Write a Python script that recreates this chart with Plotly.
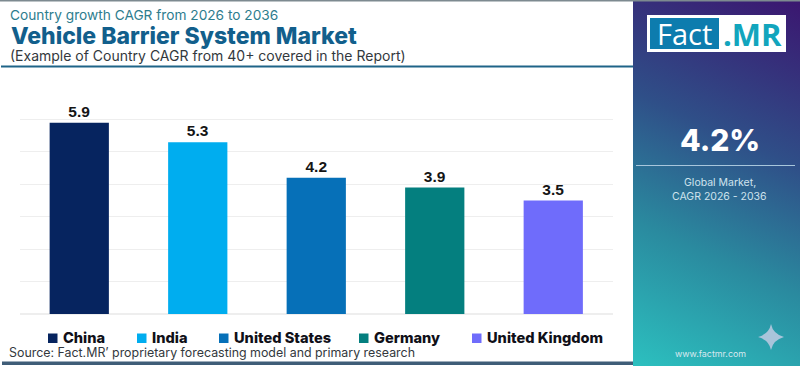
import base64
import plotly.graph_objects as go

categories = ["China", "India", "United States", "Germany", "United Kingdom"]
cagr = [5.9, 5.3, 4.2, 3.9, 3.5]
colors = ["#06245f", "#00adef", "#0670b8", "#047f7f", "#6f6cfb"]
legend_swatch_x = [48, 137, 219, 359, 472]
W, H = 800, 366

def px(x):
    return x / W

def py(y):
    return 1 - y / H

panel_svg = """<svg xmlns='http://www.w3.org/2000/svg' width='167' height='366'>
<defs><linearGradient id='g' gradientUnits='userSpaceOnUse' x1='0' y1='366' x2='167' y2='0'>
<stop offset='0' stop-color='#2cc0bf'/><stop offset='0.33' stop-color='#2a8a9f'/>
<stop offset='0.62' stop-color='#2f4f88'/><stop offset='1' stop-color='#3b1670'/></linearGradient></defs>
<rect width='167' height='366' fill='url(#g)'/></svg>"""
panel_uri = "data:image/svg+xml;base64," + base64.b64encode(panel_svg.encode()).decode()

fig = go.Figure(go.Bar(
    x=categories, y=cagr, width=0.5, marker=dict(color=colors, line_width=0),
    text=[f"<b>{v:.1f}</b>" for v in cagr], textposition="outside", cliponaxis=False,
    textfont=dict(family="Liberation Sans", size=15.5, color="#151515"),
    hoverinfo="x+y", showlegend=False,
))

shapes = [
    dict(type="rect", xref="paper", yref="paper", x0=0, x1=1, y0=py(1.5), y1=1, fillcolor="#7d8a90", line_width=0),
    dict(type="rect", xref="paper", yref="paper", x0=px(1), x1=px(633), y0=py(67.5), y1=py(65.5), fillcolor="#1f6488", line_width=0),
    dict(type="rect", xref="paper", yref="paper", x0=px(2), x1=px(633), y0=py(365), y1=py(361.5), fillcolor="#3f5d78", line_width=0),
    dict(type="line", xref="paper", yref="paper", x0=px(636), x1=px(795), y0=py(165.5), y1=py(165.5), line=dict(color="#a8c6dc", width=1)),
    dict(type="rect", xref="paper", yref="paper", x0=px(647), x1=px(786), y0=py(52), y1=py(15), fillcolor="#ffffff", line_width=0),
    dict(type="rect", xref="paper", yref="paper", x0=px(650), x1=px(719), y0=py(49), y1=py(18), fillcolor="#0d7cae", line_width=0),
    dict(type="path", xref="paper", yref="paper",
         path=(f"M {px(771)} {py(324)} Q {px(773)} {py(334)} {px(784)} {py(337)} "
               f"Q {px(773)} {py(340)} {px(771)} {py(350)} Q {px(769)} {py(340)} {px(758)} {py(337)} "
               f"Q {px(769)} {py(334)} {px(771)} {py(324)} Z"),
         fillcolor="#a9c4da", line_width=0),
]

def note(x, y, text, size, color, family="Inter", anchor="left", weight=None):
    font = dict(family=family, size=size, color=color)
    if weight:
        font["weight"] = weight
    return dict(xref="paper", yref="paper", x=px(x), y=py(y), text=text, showarrow=False,
                xanchor=anchor, yanchor="middle", align=anchor, borderpad=0, font=font)

annotations = [
    note(9, 15, "Country growth CAGR from 2026 to 2036", 13.7, "#2d7d8e"),
    note(10, 36, "Vehicle Barrier System Market", 23, "#125f8c", weight=800),
    note(9, 55, "(Example of Country CAGR from 40+ covered in the Report)", 14, "#33383d"),
    note(8, 352, "Source: Fact.MR’ proprietary forecasting model and primary research", 12.4, "#33383d"),
    note(720, 140, "4.2%", 30, "#ffffff", anchor="center", weight=800),
    note(719.5, 182, "Global Market,", 10.5, "#cfe3ee", anchor="center"),
    note(719.5, 196, "CAGR 2026 - 2036", 10.5, "#cfe3ee", anchor="center"),
    note(710, 353, "www.factmr.com", 8.9, "#d7e8ef", anchor="center"),
    note(656, 33.5, "Fact", 29, "#ffffff", family="Open Sans"),
    note(722, 33.5, ".MR", 31, "#12a5bd", family="Open Sans", weight=700),
]
for name, color, sx in zip(categories, colors, legend_swatch_x):
    shapes.append(dict(type="rect", xref="paper", yref="paper", x0=px(sx), x1=px(sx + 9.5),
                       y0=py(343), y1=py(333.5), fillcolor=color, line_width=0))
    annotations.append(note(sx + 14, 338, name, 14.6, "#101018", weight=800))

fig.update_layout(
    width=W, height=H, autosize=False,
    margin=dict(l=0, r=0, t=0, b=0),
    paper_bgcolor="#ffffff", plot_bgcolor="rgba(0,0,0,0)", showlegend=False,
    xaxis=dict(type="category", domain=[px(20), px(612.5)], showticklabels=False, showgrid=False,
               zeroline=False, ticks="", showline=False),
    yaxis=dict(range=[0, 7], domain=[py(314), py(87)], dtick=1, showticklabels=False, ticks="", showgrid=True,
               gridcolor="#eeeeee", gridwidth=1, zeroline=True, zerolinecolor="#eeeeee", showline=False),
    images=[dict(source=panel_uri, xref="paper", yref="paper", x=px(633), y=1, sizex=167 / W, sizey=1,
                 sizing="stretch", xanchor="left", yanchor="top", layer="below")],
    shapes=shapes, annotations=annotations,
)
fig.write_html("out.html", config={"displayModeBar": False}, post_script="document.body.style.margin='0';")
